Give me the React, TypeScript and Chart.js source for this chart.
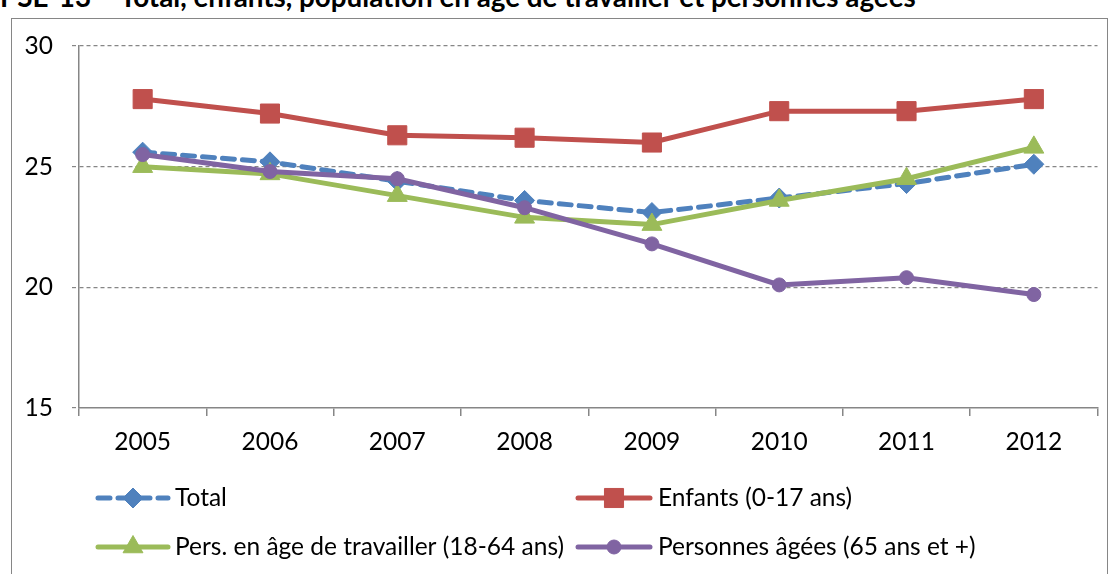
import React, { useEffect, useRef } from "react";
import { Chart, registerables } from "chart.js";

Chart.register(...registerables);

const years = ["2005", "2006", "2007", "2008", "2009", "2010", "2011", "2012"];
const totalValues = [25.6, 25.2, 24.4, 23.6, 23.1, 23.7, 24.3, 25.1];
const enfantsValues = [27.8, 27.2, 26.3, 26.2, 26.0, 27.3, 27.3, 27.8];
const travailValues = [25.0, 24.7, 23.8, 22.9, 22.6, 23.6, 24.5, 25.8];
const agesValues = [25.5, 24.8, 24.5, 23.3, 21.8, 20.1, 20.4, 19.7];
const yTickValues = [15, 20, 25, 30];
const seriesLabels = [
  "Total",
  "Enfants (0-17 ans)",
  "Pers. en âge de travailler (18-64 ans)",
  "Personnes âgées (65 ans et +)",
];
const titleText =
  "PSE-13 – Total, enfants, population en âge de travailler et personnes âgées";

const FONT = "Lato, 'Open Sans', sans-serif";
const AXIS_GRAY = "#868686";
const TEXT_SIZE = 24.5;

function drawMarker(ctx: CanvasRenderingContext2D, style: string, x: number, y: number, r: number, color: string) {
  ctx.save();
  ctx.setLineDash([]);
  ctx.fillStyle = color;
  ctx.strokeStyle = color;
  ctx.lineWidth = 1;
  ctx.beginPath();
  if (style === "rect") {
    const s = Math.SQRT1_2 * r;
    ctx.rect(x - s, y - s, 2 * s, 2 * s);
  } else if (style === "rectRot") {
    ctx.moveTo(x - r, y);
    ctx.lineTo(x, y - r);
    ctx.lineTo(x + r, y);
    ctx.lineTo(x, y + r);
    ctx.closePath();
  } else if (style === "triangle") {
    let a = 0;
    ctx.moveTo(x + Math.sin(a) * r, y - Math.cos(a) * r);
    a += (2 * Math.PI) / 3;
    ctx.lineTo(x + Math.sin(a) * r, y - Math.cos(a) * r);
    a += (2 * Math.PI) / 3;
    ctx.lineTo(x + Math.sin(a) * r, y - Math.cos(a) * r);
    ctx.closePath();
  } else {
    ctx.arc(x, y, r, 0, Math.PI * 2);
  }
  ctx.fill();
  ctx.stroke();
  ctx.restore();
}

const legendPlugin = {
  id: "customLegend",
  afterDraw(chart: any) {
    const ctx: CanvasRenderingContext2D = chart.ctx;
    const items = [
      { i: 0, x0: 98, x1: 168, y: 498, tx: 175 },
      { i: 1, x0: 578, x1: 650, y: 498, tx: 658 },
      { i: 2, x0: 98, x1: 168, y: 547, tx: 175 },
      { i: 3, x0: 578, x1: 650, y: 547, tx: 658 },
    ];
    items.forEach((it) => {
      const ds = chart.data.datasets[it.i];
      ctx.save();
      ctx.strokeStyle = ds.borderColor;
      ctx.lineWidth = ds.borderWidth;
      ctx.lineCap = "round";
      ctx.setLineDash(ds.borderDash || []);
      ctx.beginPath();
      ctx.moveTo(it.x0, it.y);
      ctx.lineTo(it.x1, it.y);
      ctx.stroke();
      ctx.restore();
      drawMarker(ctx, ds.pointStyle, (it.x0 + it.x1) / 2, it.y, ds.pointRadius, ds.borderColor);
      ctx.save();
      ctx.fillStyle = "#000";
      ctx.font = `${TEXT_SIZE}px ${FONT}`;
      ctx.textBaseline = "middle";
      ctx.textAlign = "left";
      ctx.fillText(ds.label, it.tx, it.y);
      ctx.restore();
    });
  },
};

export default function App() {
  const canvasRef = useRef<HTMLCanvasElement | null>(null);

  useEffect(() => {
    const canvas = canvasRef.current;
    if (!canvas) return;
    const chart = new Chart(canvas, {
      type: "line",
      data: {
        labels: years,
        datasets: [
          {
            label: seriesLabels[0],
            data: totalValues,
            borderColor: "#4F81BD",
            backgroundColor: "#4F81BD",
            borderWidth: 5,
            borderDash: [12, 8],
            borderCapStyle: "round",
            pointStyle: "rectRot",
            pointRadius: 10,
            pointBorderWidth: 1,
            pointBackgroundColor: "#4F81BD",
            order: 4,
          },
          {
            label: seriesLabels[1],
            data: enfantsValues,
            borderColor: "#C0504D",
            backgroundColor: "#C0504D",
            borderWidth: 5,
            pointStyle: "rect",
            pointRadius: 13.5,
            pointBorderWidth: 1,
            pointBackgroundColor: "#C0504D",
            order: 3,
          },
          {
            label: seriesLabels[2],
            data: travailValues,
            borderColor: "#9BBB59",
            backgroundColor: "#9BBB59",
            borderWidth: 5,
            pointStyle: "triangle",
            pointRadius: 11.5,
            pointBorderWidth: 1,
            pointBackgroundColor: "#9BBB59",
            order: 2,
          },
          {
            label: seriesLabels[3],
            data: agesValues,
            borderColor: "#8064A2",
            backgroundColor: "#8064A2",
            borderWidth: 5,
            pointStyle: "circle",
            pointRadius: 7,
            pointBorderWidth: 1,
            pointBackgroundColor: "#8064A2",
            order: 1,
          },
        ] as any,
      },
      options: {
        animation: false,
        responsive: false,
        devicePixelRatio: 1,
        layout: { padding: { left: 0, top: 46, right: 14, bottom: 106 } },
        plugins: {
          legend: { display: false },
          tooltip: { enabled: false },
          title: { display: false },
        },
        elements: { line: { tension: 0 } },
        scales: {
          x: {
            type: "category",
            offset: true,
            afterFit: (s: any) => {
              s.height = 60;
            },
            grid: {
              offset: true,
              drawOnChartArea: false,
              drawTicks: true,
              tickLength: 8,
              color: AXIS_GRAY,
              tickColor: AXIS_GRAY,
              lineWidth: 1.5,
            },
            border: { display: true, color: AXIS_GRAY, width: 1.5 },
            ticks: {
              color: "#000",
              font: { family: FONT, size: TEXT_SIZE },
              padding: 11,
              maxRotation: 0,
              autoSkip: false,
            },
          },
          y: {
            min: 15,
            max: 30,
            afterFit: (s: any) => {
              s.width = 79;
            },
            afterBuildTicks: (s: any) => {
              s.ticks = yTickValues.map((v) => ({ value: v }));
            },
            grid: {
              drawTicks: true,
              tickLength: 7,
              color: (c: any) => (c.tick && c.tick.value === 15 ? "rgba(0,0,0,0)" : AXIS_GRAY),
              tickColor: AXIS_GRAY,
              lineWidth: 1.2,
              tickBorderDash: [4, 3],
            },
            border: { display: true, color: AXIS_GRAY, width: 1.5, dash: [4, 3] },
            ticks: {
              color: "#000",
              font: { family: FONT, size: TEXT_SIZE },
              padding: 19,
            },
          },
        },
      } as any,
      plugins: [legendPlugin],
    });
    return () => chart.destroy();
  }, []);

  return (
    <div
      style={{
        position: "absolute",
        left: 0,
        top: 0,
        width: 1112,
        height: 574,
        overflow: "hidden",
        background: "#fff",
      }}
    >
      <div
        style={{
          position: "absolute",
          left: 0,
          top: -19,
          whiteSpace: "nowrap",
          fontFamily: FONT,
          fontWeight: 700,
          fontSize: 27.8,
          lineHeight: "32px",
          color: "#000",
        }}
      >
        {titleText}
      </div>
      <div
        style={{
          position: "absolute",
          left: 11,
          top: 18,
          width: 1097,
          height: 620,
          border: `1.5px solid ${AXIS_GRAY}`,
          boxSizing: "border-box",
        }}
      />
      <canvas
        ref={canvasRef}
        width={1112}
        height={574}
        style={{ position: "absolute", left: 0, top: 0, width: 1112, height: 574 }}
      />
    </div>
  );
}
